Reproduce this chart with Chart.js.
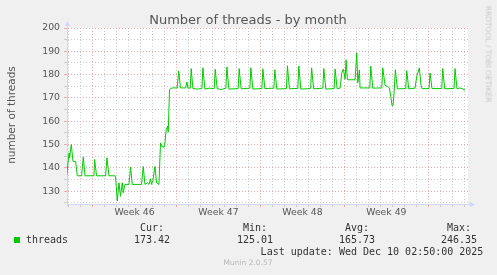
<!DOCTYPE html>
<html>
<head>
<meta charset="utf-8">
<script src="https://cdn.jsdelivr.net/npm/chart.js@4.4.1/dist/chart.umd.min.js"></script>
<style>
  html, body { margin: 0; padding: 0; background: #f0f0f0; }
  #wrap { position: relative; width: 497px; height: 275px; overflow: hidden; }
  #chart { position: absolute; left: 0; top: 0; }
  .t { position: absolute; white-space: nowrap; transform: translate(-50%, -50%); line-height: 1; }
  .sans { font-family: "DejaVu Sans", sans-serif; }
  .mono { font-family: "DejaVu Sans Mono", monospace; font-size: 10px; color: #333; }
</style>
</head>
<body>
<div id="wrap">
  <canvas id="chart" width="497" height="275"></canvas>
  <div class="t sans" style="left:248px; top:19px; font-size:13px; color:#555;">Number of threads - by month</div>
  <div class="t sans" style="left:11px; top:115px; font-size:10.5px; color:#555; transform: translate(-50%, -50%) rotate(-90deg);">number of threads</div>
  <div class="t sans" style="left:488px; top:54px; font-size:7.5px; color:#c8c8c8; transform: translate(-50%, -50%) rotate(90deg);">RRDTOOL / TOBI OETIKER</div>
  <div id="legend"></div>
  <div class="t sans" style="left:248px; top:263px; font-size:7.5px; color:#b8b8b8;">Munin 2.0.57</div>
</div>
<script>
// month graph, x = hours since left edge of the graph
const hours = [
  1, 5.4, 6.6, 10, 13.4, 18.6, 22, 30.6, 34, 37.4, 55.4, 56.6, 60.6, 78.6, 81.4, 85.4,
  97.4, 98.6, 100, 102, 105.4, 108.6, 112, 114, 117.4, 125.4, 128.6, 132, 150.6, 154, 157.4,
  162, 165.4, 168.6, 170.6, 173.4, 177.4, 180.6, 185.4, 188.6, 192, 196.6, 200, 202.6, 204,
  206.6, 212, 222, 225, 228.6,
  239, 241.4, 243.4, 248, 250, 253.4, 262, 271.4, 273.4, 277.4, 286, 296, 298, 302, 310,
  319.4, 321.4, 325.4, 344, 346, 350, 367.4, 369.4, 373.4, 391.4, 393.4, 397.4,
  415.4, 417.4, 421.4, 440.6, 442.6, 446.6, 463.4, 465.4, 469.4, 489, 491, 495,
  513.4, 515.4, 519.4, 536, 538, 542,
  548, 551.4, 554.6, 558, 560, 562.6, 578, 581.4, 583.4, 586.6, 588,
  607.4, 609.4, 613.4, 631.4, 633.4, 638, 642.6, 646.6, 649.4, 652, 654, 656, 658.6, 662.6,
  679.4, 681.4, 685.4, 698, 701.4, 706.6, 710, 712, 726, 728, 732,
  751.4, 753.4, 757.4, 776, 778, 782, 788, 798
];
const threads = [
  137.0, 146.4, 144.3, 150.0, 142.8, 142.8, 136.6, 136.6, 144.7, 136.6, 136.6, 143.6, 136.6, 136.6, 144.3, 136.6,
  136.6, 136.1, 132.1, 125.7, 133.6, 127.8, 133.6, 129.3, 132.9, 132.9, 140.4, 132.9, 132.9, 140.6, 132.9,
  133.6, 132.9, 135.3, 132.9, 134.6, 140.6, 133.6, 132.9, 150.7, 149.0, 149.0, 156.4, 157.8, 155.3,
  173.6, 174.3, 174.3, 181.6, 174.3,
  174.3, 176.9, 174.3, 174.2, 182.6, 174.0, 173.8, 174.0, 182.9, 173.8, 174.2, 174.0, 182.3, 174.0, 173.6,
  174.2, 183.3, 173.8, 174.0, 182.6, 173.9, 174.2, 182.9, 173.8, 174.0, 182.5, 174.0,
  174.2, 182.1, 173.8, 174.0, 183.8, 173.9, 174.1, 183.7, 173.8, 174.0, 182.9, 173.9,
  174.2, 182.6, 173.8, 174.0, 182.4, 174.0,
  174.2, 180.7, 182.4, 178.0, 186.4, 177.8, 177.8, 189.3, 176.5, 182.0, 174.3,
  174.3, 183.6, 174.2, 174.3, 182.9, 175.4, 175.0, 174.3, 170.7, 166.8, 166.7, 172.0, 182.1, 173.9,
  174.0, 181.7, 173.9, 174.2, 179.2, 182.9, 175.4, 174.0, 174.0, 180.7, 174.0,
  174.0, 182.6, 173.9, 174.1, 182.6, 173.9, 174.3, 173.4
];
const weekLabels = ['Week 46', 'Week 47', 'Week 48', 'Week 49'];
const yTicks = [125, 130, 135, 140, 145, 150, 155, 160, 165, 170, 175, 180, 185, 190, 195, 200];
const statNames = ['Cur:', 'Min:', 'Avg:', 'Max:'];
const statValues = ['173.42', '125.01', '165.73', '246.35'];
const lastUpdate = 'Last update: Wed Dec 10 02:50:00 2025';

const firstDayLine = 4.6; // hours, first midnight after the left edge
const axisBlue = '#cfd6f8';
const gridRed = '#eeaaaa';
const gridGrey = '#cccccc';

// legend block under the plot
const legend = document.getElementById('legend');
const colX = [152, 255, 357, 459];
let html = '<div style="position:absolute;left:14px;top:237px;width:6px;height:6px;background:#00cc00"></div>';
html += '<div class="t mono" style="left:47px;top:240px">threads</div>';
statNames.forEach((n, i) => {
  html += '<div class="t mono" style="left:' + colX[i] + 'px;top:228px">' + n + '</div>';
  html += '<div class="t mono" style="left:' + colX[i] + 'px;top:240px">' + statValues[i] + '</div>';
});
html += '<div class="t mono" style="left:372px;top:252px">' + lastUpdate + '</div>';
legend.innerHTML = html;

// half-day step index from the first midnight
function halfDay(v) { return Math.round((v - firstDayLine) / 12); }

const plotBg = {
  id: 'plotBg',
  beforeDraw(chart) {
    const a = chart.chartArea, c = chart.ctx;
    c.save();
    c.fillStyle = '#ffffff';
    c.fillRect(a.left, a.top, a.right - a.left, a.bottom - a.top);
    c.restore();
  }
};

const arrows = {
  id: 'arrows',
  afterDraw(chart) {
    const a = chart.chartArea, c = chart.ctx;
    c.save();
    c.strokeStyle = axisBlue;
    c.fillStyle = axisBlue;
    c.lineWidth = 1;
    c.beginPath();
    c.moveTo(a.left + 0.5, a.top); c.lineTo(a.left + 0.5, a.top - 4);
    c.moveTo(a.left + 0.5, a.bottom); c.lineTo(a.left + 0.5, a.bottom + 3);
    c.moveTo(a.right, a.bottom + 0.5); c.lineTo(a.right + 3, a.bottom + 0.5);
    c.stroke();
    c.beginPath();
    c.moveTo(a.left - 2, a.top - 2); c.lineTo(a.left + 3, a.top - 2); c.lineTo(a.left + 0.5, a.top - 7);
    c.closePath(); c.fill();
    c.beginPath();
    c.moveTo(a.right + 2, a.bottom - 2); c.lineTo(a.right + 2, a.bottom + 3); c.lineTo(a.right + 7, a.bottom + 0.5);
    c.closePath(); c.fill();
    c.restore();
  }
};

const tickFont = { family: 'DejaVu Sans', size: 9.3 };

new Chart(document.getElementById('chart'), {
  type: 'line',
  data: {
    datasets: [{
      label: 'threads',
      data: hours.map((h, i) => ({ x: h, y: threads[i] })),
      borderColor: '#00cc00',
      borderWidth: 1,
      pointRadius: 0,
      tension: 0,
      fill: false
    }]
  },
  options: {
    responsive: false,
    animation: false,
    layout: { padding: { top: 28, right: 29, left: 0, bottom: 0 } },
    plugins: { legend: { display: false }, tooltip: { enabled: false }, title: { display: false } },
    scales: {
      x: {
        type: 'linear',
        min: 1.4,
        max: 804,
        afterFit: s => { s.height = 71; },
        afterBuildTicks: s => {
          const t = [];
          for (let v = firstDayLine; v <= 804; v += 12) t.push({ value: v });
          s.ticks = t;
        },
        ticks: {
          autoSkip: false,
          maxRotation: 0,
          padding: 0,
          color: '#555',
          font: tickFont,
          callback: v => {
            const d = halfDay(v);
            if (d % 2 === 1 && (d - 4) % 14 === 7) return weekLabels[(d - 11) / 14] || '';
            return '';
          }
        },
        grid: {
          tickLength: 3,
          lineWidth: 1,
          color: ctx => {
            const d = halfDay(ctx.tick.value);
            if (d % 2 !== 0) return 'rgba(0,0,0,0)';
            return (d - 4) % 14 === 0 ? gridRed : gridGrey;
          }
        },
        border: { color: axisBlue, width: 1, dash: [1, 2] }
      },
      y: {
        min: 124.5,
        max: 200,
        afterFit: s => { s.width = 67; },
        afterBuildTicks: s => { s.ticks = yTicks.map(v => ({ value: v })); },
        ticks: {
          autoSkip: false,
          padding: 4,
          color: '#555',
          font: tickFont,
          callback: v => (v % 10 === 0 ? String(v) : '')
        },
        grid: {
          tickLength: 3,
          lineWidth: 1,
          color: ctx => (ctx.tick.value % 10 === 0 ? gridRed : gridGrey)
        },
        border: { color: axisBlue, width: 1, dash: [1, 2] }
      }
    }
  },
  plugins: [plotBg, arrows]
});
</script>
</body>
</html>
